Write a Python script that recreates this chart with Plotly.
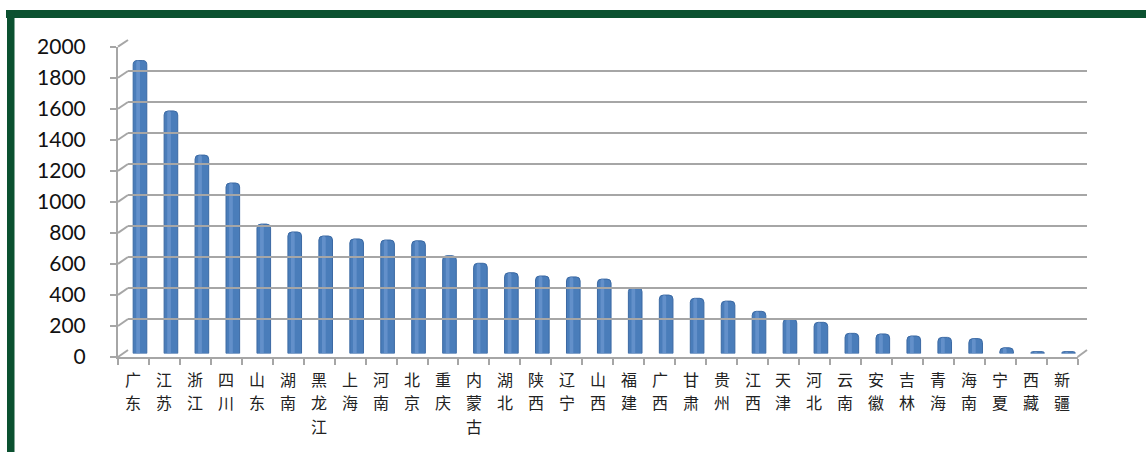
import plotly.graph_objects as go

# ---- data ----
provinces = ["广东", "江苏", "浙江", "四川", "山东", "湖南", "黑龙江", "上海", "河南", "北京",
             "重庆", "内蒙古", "湖北", "陕西", "辽宁", "山西", "福建", "广西", "甘肃", "贵州",
             "江西", "天津", "河北", "云南", "安徽", "吉林", "青海", "海南", "宁夏", "西藏", "新疆"]
values = [1890, 1565, 1280, 1100, 835, 784, 758, 739, 732, 727,
          631, 582, 521, 500, 494, 480, 425, 377, 356, 338,
          272, 223, 201, 130, 126, 113, 104, 96, 37, 12, 12]
y_ticks = [0, 200, 400, 600, 800, 1000, 1200, 1400, 1600, 1800, 2000]
y_max = 2000

# ---- layout geometry (pixels) ----
W, H = 1146, 452
L, R, T, B = 118, 59, 40, 95
PW, PH = W - L - R, H - T - B

def px_x(p):
    return (p - L) / PW

def px_y(p):
    return (H - B - p) / PH

front_y_dom = [px_y(357), px_y(46.7)]
back_y_dom = [px_y(350), px_y(40)]
bar_y_dom = [px_y(353.5), px_y(43.5)]
front_x_dom = [px_x(118), px_x(1077.5)]
back_x_dom = [px_x(128), px_x(1087)]
bar_x_dom = [px_x(124.5), px_x(1084)]

n = len(provinces)

fig = go.Figure()

# bars (mid-depth)
fig.add_trace(go.Bar(
    x=provinces, y=values, xaxis="x2", yaxis="y2",
    width=0.44,
    marker=dict(color="#4a7dba", line=dict(color="#3b69a3", width=1), cornerradius=4),
    showlegend=False, hoverinfo="x+y",
))
# highlight stripe for cylinder look
fig.add_trace(go.Bar(
    x=provinces, y=values, xaxis="x2", yaxis="y2",
    width=0.12, offset=-0.12,
    marker=dict(color="rgba(120,160,215,0.55)", line=dict(width=0), cornerradius=2),
    showlegend=False, hoverinfo="skip",
))

# invisible trace to hold front axes
fig.add_trace(go.Scatter(x=provinces, y=[None] * n, xaxis="x", yaxis="y",
                         mode="markers", showlegend=False, hoverinfo="skip"))
# invisible trace for back wall axes
fig.add_trace(go.Scatter(x=provinces, y=[None] * n, xaxis="x3", yaxis="y3",
                         mode="markers", showlegend=False, hoverinfo="skip"))

grid_col = "#a6a6a6"
shapes = []
# connectors from front axis ticks to back wall gridlines
for v in y_ticks:
    yf = front_y_dom[0] + v / y_max * (front_y_dom[1] - front_y_dom[0])
    yb = back_y_dom[0] + v / y_max * (back_y_dom[1] - back_y_dom[0])
    shapes.append(dict(type="line", xref="paper", yref="paper",
                       x0=front_x_dom[0], y0=yf, x1=back_x_dom[0], y1=yb,
                       line=dict(color=grid_col, width=2), layer="below"))
# right floor edge diagonal
shapes.append(dict(type="line", xref="paper", yref="paper",
                   x0=front_x_dom[1], y0=front_y_dom[0], x1=back_x_dom[1], y1=back_y_dom[0],
                   line=dict(color=grid_col, width=2), layer="below"))
# green frame
green = "#0b5130"
shapes.append(dict(type="rect", xref="paper", yref="paper",
                   x0=px_x(6), x1=px_x(1146), y0=px_y(18), y1=px_y(10),
                   fillcolor=green, line=dict(width=0), layer="above"))
shapes.append(dict(type="rect", xref="paper", yref="paper",
                   x0=px_x(7), x1=px_x(14.5), y0=px_y(452), y1=px_y(10),
                   fillcolor=green, line=dict(width=0), layer="above"))

# vertical category labels: one character per row
label_font = dict(family="Noto Sans CJK SC", size=16, color="#222222")
pitch = 23.4
annotations = []
for p in provinces:
    for k, ch in enumerate(p):
        annotations.append(dict(
            x=p, y=0, xref="x", yref="y", text=ch, showarrow=False,
            xanchor="center", yanchor="top", yshift=-(9 + k * pitch),
            borderpad=0, font=label_font))

num_font = dict(family="Lato", size=21, color="#111111")

fig.update_layout(
    width=W, height=H,
    margin=dict(l=L, r=R, t=T, b=B, pad=0),
    paper_bgcolor="white", plot_bgcolor="rgba(0,0,0,0)",
    barmode="overlay",
    shapes=shapes,
    annotations=annotations,
    xaxis=dict(domain=front_x_dom, anchor="y", type="category",
               categoryorder="array", categoryarray=provinces,
               range=[-0.5, n - 0.5], showticklabels=False,
               ticks="outside", tickson="boundaries", ticklen=6, tickwidth=2,
               tickcolor=grid_col, showline=True, linecolor=grid_col, linewidth=2,
               showgrid=False, zeroline=False),
    yaxis=dict(domain=front_y_dom, anchor="x", range=[0, y_max],
               tickmode="array", tickvals=y_ticks, tickfont=num_font,
               ticks="outside", ticklen=6, tickwidth=2, tickcolor=grid_col,
               showline=True, linecolor=grid_col, linewidth=2,
               showgrid=False, zeroline=False, ticklabelstandoff=20),
    xaxis2=dict(domain=bar_x_dom, anchor="y2", type="category",
                categoryorder="array", categoryarray=provinces,
                range=[-0.5, n - 0.5], visible=False),
    yaxis2=dict(domain=bar_y_dom, anchor="x2", range=[0, y_max], visible=False),
    xaxis3=dict(domain=back_x_dom, anchor="y3", type="category",
                categoryorder="array", categoryarray=provinces,
                range=[-0.5, n - 0.5], visible=False),
    yaxis3=dict(domain=back_y_dom, anchor="x3", range=[0, y_max],
                tickmode="array", tickvals=y_ticks, showticklabels=False,
                showgrid=True, gridcolor=grid_col, gridwidth=2, zeroline=False,
                showline=False, ticks="", layer="below traces"),
)

fig.write_html("out.html")
